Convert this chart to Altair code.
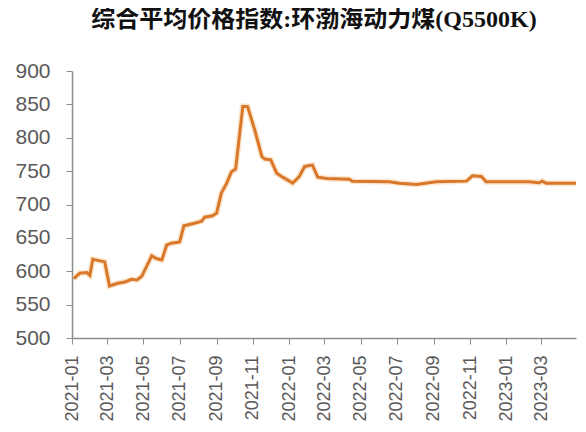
import altair as alt
import pandas as pd

# data (vertices of the line)
dates = [
    "2021-01-04", "2021-01-14", "2021-01-26", "2021-01-31", "2021-02-05", "2021-02-25",
    "2021-03-05", "2021-03-19", "2021-03-31", "2021-04-11", "2021-04-20", "2021-04-28",
    "2021-05-15", "2021-05-23", "2021-06-01", "2021-06-09", "2021-06-17", "2021-07-01",
    "2021-07-08", "2021-07-26", "2021-08-07", "2021-08-12", "2021-08-25", "2021-09-01",
    "2021-09-09", "2021-09-18", "2021-09-26", "2021-10-03", "2021-10-15", "2021-10-23",
    "2021-11-04", "2021-11-16", "2021-11-21", "2021-12-01", "2021-12-11", "2021-12-21",
    "2022-01-07", "2022-01-18", "2022-01-27", "2022-02-09", "2022-02-18", "2022-03-05",
    "2022-04-12", "2022-04-17", "2022-06-18", "2022-07-05", "2022-08-03", "2022-09-05",
    "2022-10-26", "2022-11-05", "2022-11-20", "2022-11-28", "2023-02-08", "2023-02-25",
    "2023-03-02", "2023-03-09", "2023-04-28",
]
values = [
    589, 597, 598, 594, 618, 614,
    578, 582, 584, 588, 587, 592,
    623, 619, 617, 639, 642, 644,
    668, 672, 675, 681, 683, 687,
    717, 732, 749, 753, 847, 847,
    812, 772, 768, 767, 747, 741,
    732, 742, 757, 759, 741, 739,
    738, 735, 734, 732, 730, 734,
    735, 743, 742, 734, 734, 732.5,
    735, 732, 732,
]
y_ticks = [500, 550, 600, 650, 700, 750, 800, 850, 900]
x_tick_months = [(2021, 1), (2021, 3), (2021, 5), (2021, 7), (2021, 9), (2021, 11),
                 (2022, 1), (2022, 3), (2022, 5), (2022, 7), (2022, 9), (2022, 11),
                 (2023, 1), (2023, 3)]
title_text = "综合平均价格指数:环渤海动力煤(Q5500K)"

df = pd.DataFrame({"date": dates, "value": values})

x_vals = [alt.DateTime(year=y, month=m, date=1, utc=True) for y, m in x_tick_months]

x_enc = alt.X(
    "date:T",
    scale=alt.Scale(type="utc",
                    domain=[alt.DateTime(year=2021, month=1, date=1, utc=True),
                            alt.DateTime(year=2023, month=4, date=28, utc=True)]),
    axis=alt.Axis(values=x_vals, format="%Y-%m", labelAngle=-90,
                  labelAlign="right", labelBaseline="middle", labelFontSize=18,
                  labelColor="#595959", labelFont="Liberation Sans", tickSize=6,
                  labelPadding=11, title=None, grid=False, labelOverlap=False),
)
y_enc = alt.Y(
    "value:Q",
    scale=alt.Scale(domain=[500, 900], nice=False, zero=False),
    axis=alt.Axis(values=y_ticks, labelFontSize=21, labelColor="#595959",
                  labelFont="Liberation Sans", tickSize=6, labelPadding=16,
                  title=None, grid=False),
)

base = alt.Chart(df)
halo = base.mark_line(color="#F7C795", strokeWidth=6, opacity=0.45).encode(x=x_enc, y=y_enc)
line = base.mark_line(color="#D9782A", strokeWidth=3).encode(x=x_enc, y=y_enc)

chart = (
    alt.layer(halo, line)
    .properties(
        width=504,
        height=267,
        autosize=alt.AutoSizeParams(type="none"),
        padding={"left": 64, "top": 63, "right": 2, "bottom": 86},
        title=alt.Title(title_text, font="Liberation Serif, Noto Sans CJK SC",
                        fontSize=24, fontWeight="bold", color="#111111",
                        anchor="middle", dx=-10, offset=28),
    )
    .configure_view(stroke=None)
    .configure_axis(domainColor="#8c8c8c", tickColor="#8c8c8c", domainWidth=1.5)
)

chart.save("out.html", embed_options={"renderer": "svg", "actions": False})
